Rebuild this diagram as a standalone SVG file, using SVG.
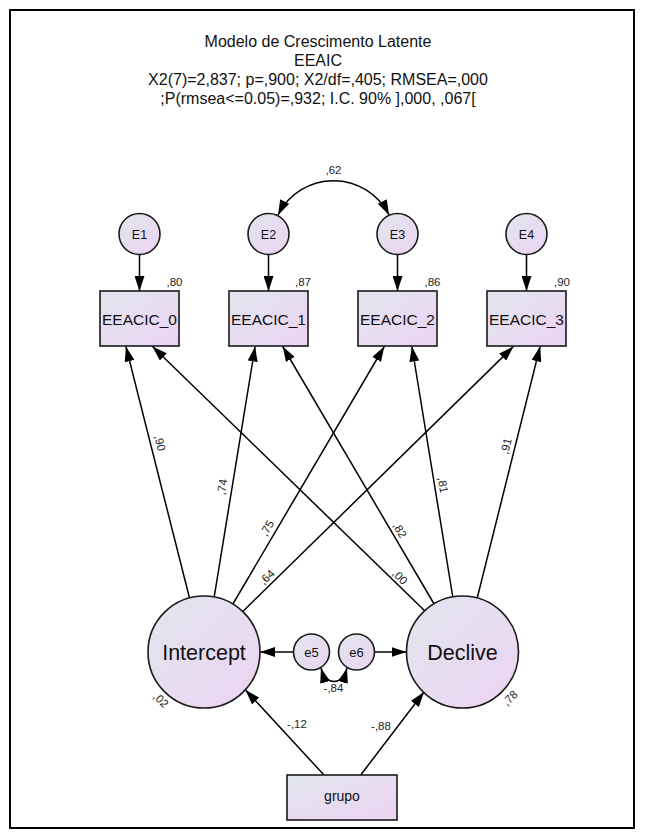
<svg xmlns="http://www.w3.org/2000/svg" width="645" height="837" viewBox="0 0 645 837">
  <defs>
    <linearGradient id="fillGrad" x1="0" y1="0" x2="1" y2="1">
      <stop offset="0" stop-color="#e1e6ee"/>
      <stop offset="1" stop-color="#edd3f3"/>
    </linearGradient>
    <marker id="arrow" viewBox="0 0 15 10" markerWidth="15" markerHeight="10" refX="15" refY="5" orient="auto-start-reverse" markerUnits="userSpaceOnUse">
      <path d="M0,0 L15,5 L0,10 z" fill="#000"/>
    </marker>
    <style>
      .node { fill: url(#fillGrad); stroke: #1a1a1a; stroke-width: 1.6; }
      .title { font-family: "Liberation Sans", Arial, sans-serif; font-size: 16px; fill: #111; text-anchor: middle; }
      .lbl { font-family: "Liberation Sans", Arial, sans-serif; fill: #111; text-anchor: middle; }
      .small { font-family: "Liberation Sans", Arial, sans-serif; font-size: 11.5px; fill: #222; text-anchor: middle; }
      .conn line, .conn path { stroke: #000; stroke-width: 1.5; fill: none; marker-end: url(#arrow); }
    </style>
  </defs>

  <rect x="0" y="0" width="645" height="837" fill="#fff"/>
  <rect x="10" y="10" width="624" height="818" fill="none" stroke="#000" stroke-width="2"/>

  <!-- title block -->
  <g id="title">
    <text class="title" x="318" y="47">Modelo de Crescimento Latente</text>
    <text class="title" x="318" y="66">EEAIC</text>
    <text class="title" x="318" y="85">X2(7)=2,837; p=,900; X2/df=,405; RMSEA=,000</text>
    <text class="title" x="318" y="104">;P(rmsea&lt;=0.05)=,932; I.C. 90% ],000, ,067[</text>
  </g>

  <!-- connectors -->
  <g id="connectors" class="conn">
    <!-- error terms to indicators -->
    <line x1="139.5" y1="255" x2="139.5" y2="291"/>
    <line x1="268.5" y1="255" x2="268.5" y2="291"/>
    <line x1="397.5" y1="255" x2="397.5" y2="291"/>
    <line x1="526.5" y1="255" x2="526.5" y2="291"/>
    <!-- E2 <-> E3 covariance -->
    <path d="M278,215 A62,62 0 0 1 389,215" style="marker-start:url(#arrow)"/>
    <!-- Intercept loadings -->
    <line x1="189.5" y1="598" x2="125.9" y2="346.5"/>
    <line x1="214.2" y1="597" x2="255.1" y2="346.5"/>
    <line x1="232.9" y1="604" x2="384.3" y2="346.5"/>
    <line x1="242.8" y1="611.5" x2="513.4" y2="346.5"/>
    <!-- Declive loadings -->
    <line x1="424.7" y1="610.8" x2="152.5" y2="346.5"/>
    <line x1="434.1" y1="604" x2="282.7" y2="346.5"/>
    <line x1="452.8" y1="597" x2="411.9" y2="346.5"/>
    <line x1="477.2" y1="598" x2="540.1" y2="346.5"/>
    <!-- disturbances -->
    <line x1="293.5" y1="652" x2="260" y2="652"/>
    <line x1="374.5" y1="652" x2="406.5" y2="652"/>
    <path d="M321,668 C326,686 342,686 347,668" style="marker-start:url(#arrow)"/>
    <!-- grupo predictor -->
    <line x1="324" y1="775" x2="245.5" y2="690"/>
    <line x1="360.7" y1="775" x2="424" y2="692"/>
  </g>

  <!-- path coefficients -->
  <g id="coefficients">
    <text class="small" x="333.5" y="174">,62</text>
    <text class="small" x="174.5" y="286">,80</text>
    <text class="small" x="303" y="286">,87</text>
    <text class="small" x="432.5" y="286">,86</text>
    <text class="small" x="562" y="286">,90</text>
    <text class="small" transform="translate(160,443) rotate(76)" y="4">,90</text>
    <text class="small" transform="translate(222,487) rotate(-80.7)" y="4">,74</text>
    <text class="small" transform="translate(267,528) rotate(-59.5)" y="4">,75</text>
    <text class="small" transform="translate(267,577) rotate(-44.4)" y="4">,64</text>
    <text class="small" transform="translate(400,577) rotate(44.2)" y="4">,00</text>
    <text class="small" transform="translate(400,530) rotate(59.5)" y="4">,82</text>
    <text class="small" transform="translate(443,485) rotate(80.7)" y="4">,81</text>
    <text class="small" transform="translate(506,446) rotate(-76)" y="4">,91</text>
    <text class="small" transform="translate(161,700) rotate(45)" y="4">,02</text>
    <text class="small" transform="translate(510,698) rotate(-45)" y="4">,78</text>
    <text class="small" x="333.5" y="692">-,84</text>
    <text class="small" x="297" y="728">-,12</text>
    <text class="small" x="381" y="730">-,88</text>
  </g>

  <!-- error terms -->
  <g id="E1"><circle class="node" cx="139.5" cy="234" r="20.5"/><text class="lbl" x="139.5" y="238.5" font-size="12.5">E1</text></g>
  <g id="E2"><circle class="node" cx="268.5" cy="234" r="20.5"/><text class="lbl" x="268.5" y="238.5" font-size="12.5">E2</text></g>
  <g id="E3"><circle class="node" cx="397.5" cy="234" r="20.5"/><text class="lbl" x="397.5" y="238.5" font-size="12.5">E3</text></g>
  <g id="E4"><circle class="node" cx="526.5" cy="234" r="20.5"/><text class="lbl" x="526.5" y="238.5" font-size="12.5">E4</text></g>

  <!-- observed indicators -->
  <g id="EEACIC_0"><rect class="node" x="100" y="291" width="79" height="55"/><text class="lbl" x="139.5" y="324.5" font-size="15.5">EEACIC_0</text></g>
  <g id="EEACIC_1"><rect class="node" x="229" y="291" width="79" height="55"/><text class="lbl" x="268.5" y="324.5" font-size="15.5">EEACIC_1</text></g>
  <g id="EEACIC_2"><rect class="node" x="358" y="291" width="79" height="55"/><text class="lbl" x="397.5" y="324.5" font-size="15.5">EEACIC_2</text></g>
  <g id="EEACIC_3"><rect class="node" x="487" y="291" width="79" height="55"/><text class="lbl" x="526.5" y="324.5" font-size="15.5">EEACIC_3</text></g>

  <!-- latent growth factors -->
  <g id="Intercept"><circle class="node" cx="204" cy="652" r="56"/><text class="lbl" x="204" y="659.5" font-size="21.5">Intercept</text></g>
  <g id="Declive"><circle class="node" cx="462.5" cy="652" r="56"/><text class="lbl" x="462.5" y="659.5" font-size="21.5">Declive</text></g>

  <!-- disturbances -->
  <g id="e5"><circle class="node" cx="311.5" cy="652" r="18"/><text class="lbl" x="311.5" y="656.5" font-size="13">e5</text></g>
  <g id="e6"><circle class="node" cx="356.5" cy="652" r="18"/><text class="lbl" x="356.5" y="656.5" font-size="13">e6</text></g>

  <!-- covariate -->
  <g id="grupo"><rect class="node" x="287" y="775" width="110" height="45"/><text class="lbl" x="342" y="801" font-size="14">grupo</text></g>
</svg>
